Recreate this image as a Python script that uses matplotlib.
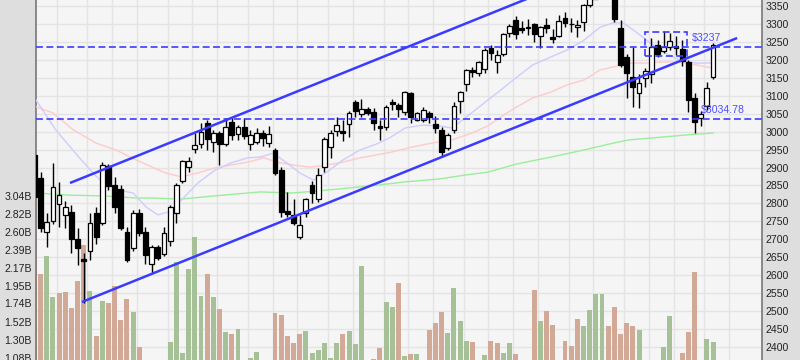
import numpy as np
import matplotlib.pyplot as plt
from matplotlib.patches import Rectangle
from matplotlib.transforms import blended_transform_factory

plt.rcParams['font.family'] = ['Liberation Sans', 'DejaVu Sans']
plt.rcParams['lines.scale_dashes'] = False

# daily candles, oldest first
opens = [2934.9, 2870.8, 2720.3, 2751.0, 2798.4, 2767.7, 2776.1, 2700.8, 2645.1, 2667.4,
         2773.3, 2745.4, 2904.2, 2851.3, 2840.2, 2720.3, 2675.8, 2773.3, 2720.3, 2631.2,
         2678.6, 2659.1, 2695.3, 2773.3, 2862.4, 2901.4, 2951.6, 2965.5, 3024.0, 2971.1,
         2996.2, 2965.5, 3026.8, 2993.4, 3012.9, 2965.5, 2971.1, 2996.2, 2968.3, 2948.8,
         2893.1, 2778.9, 2767.7, 2706.4, 2773.3, 2851.3, 2812.3, 2901.4, 2957.2, 3001.7,
         3001.7, 3021.2, 3082.5, 3049.1, 3063.0, 3054.7, 3015.7, 3012.9, 3082.5, 3074.2,
         3054.7, 3107.6, 3032.4, 3032.4, 3051.9, 3021.2, 3004.5, 2954.4, 3004.5, 3085.3,
         3132.7, 3171.7, 3163.3, 3174.5, 3233.0, 3194.0, 3216.3, 3274.8, 3311.0, 3288.7,
         3291.5, 3299.8, 3266.4, 3297.0, 3263.6, 3266.4, 3316.6, 3299.5, 3291.5, 3305.4,
         3352.8, 3370.0, 3383.0, 3390.0, 3385.0, 3288.7, 3207.9, 3152.2, 3107.6, 3149.4,
         3160.5, 3241.3, 3224.6, 3235.8, 3238.6, 3230.2, 3194.0, 3093.7, 3038.0, 3071.4,
         3152.2]
highs = [2948.8, 2887.5, 2773.3, 2912.6, 2859.6, 2806.7, 2795.6, 2731.5, 2661.8, 2773.3,
         2790.0, 2915.4, 2909.8, 2873.6, 2851.3, 2734.3, 2781.6, 2784.4, 2734.3, 2684.1,
         2684.1, 2734.3, 2795.6, 2856.9, 2920.9, 2929.3, 2996.2, 3024.0, 3032.4, 3004.5,
         3001.7, 3038.0, 3038.0, 3018.5, 3038.0, 3004.5, 3010.1, 3004.5, 3015.7, 2954.4,
         2901.4, 2831.8, 2812.3, 2767.7, 2815.1, 2862.4, 2898.7, 2985.0, 3004.5, 3040.7,
         3032.4, 3057.5, 3088.1, 3090.9, 3068.6, 3065.8, 3032.4, 3074.2, 3090.9, 3079.7,
         3113.2, 3110.4, 3054.7, 3068.6, 3057.5, 3043.5, 3012.9, 2996.2, 3082.5, 3113.2,
         3174.5, 3180.0, 3196.8, 3233.0, 3241.3, 3227.4, 3274.8, 3299.8, 3322.1, 3308.2,
         3313.8, 3302.6, 3294.3, 3316.6, 3285.9, 3324.9, 3333.3, 3316.6, 3311.0, 3355.6,
         3385.0, 3395.0, 3402.0, 3398.0, 3396.0, 3311.0, 3216.3, 3235.8, 3160.5, 3177.3,
         3260.8, 3255.3, 3280.3, 3274.8, 3266.4, 3255.3, 3199.5, 3107.6, 3057.5, 3138.2,
         3246.9]
lows = [2795.6, 2720.3, 2678.6, 2742.6, 2734.3, 2731.5, 2661.8, 2628.4, 2522.5, 2642.3,
        2686.9, 2739.9, 2837.4, 2773.3, 2725.9, 2636.8, 2667.4, 2709.2, 2631.2, 2606.1,
        2642.3, 2653.5, 2681.3, 2745.4, 2856.9, 2887.5, 2940.4, 2954.4, 2948.8, 2943.2,
        2907.0, 2960.0, 2976.7, 2976.7, 2979.4, 2948.8, 2965.5, 2960.0, 2957.2, 2879.2,
        2762.1, 2762.1, 2739.9, 2700.8, 2762.1, 2801.1, 2803.9, 2887.5, 2926.5, 2987.8,
        2973.9, 2985.0, 3040.7, 3040.7, 3046.3, 3004.5, 2976.7, 3004.5, 3060.2, 3040.7,
        3046.3, 3024.0, 3029.6, 3026.8, 3024.0, 2996.2, 2932.1, 2948.8, 2996.2, 3051.9,
        3113.2, 3152.2, 3155.0, 3163.3, 3199.5, 3163.3, 3210.7, 3263.6, 3258.0, 3274.8,
        3269.2, 3249.7, 3233.0, 3274.8, 3246.9, 3263.6, 3291.5, 3277.6, 3263.6, 3280.3,
        3347.2, 3369.0, 3376.0, 3372.0, 3305.4, 3180.0, 3093.7, 3068.6, 3065.8, 3124.3,
        3135.5, 3207.9, 3219.1, 3227.4, 3213.5, 3182.8, 3054.7, 2996.2, 3015.7, 3060.2,
        3146.6]
closes = [2817.9, 2731.5, 2748.2, 2845.7, 2823.4, 2790.0, 2700.8, 2675.8, 2639.6, 2745.4,
          2706.4, 2907.0, 2848.5, 2790.0, 2731.5, 2642.3, 2773.3, 2717.6, 2656.3, 2678.6,
          2647.9, 2717.6, 2790.0, 2851.3, 2918.2, 2919.5, 2962.7, 2998.9, 2979.4, 2996.2,
          2965.5, 3012.9, 2990.6, 3012.9, 2987.8, 2990.6, 2996.2, 2982.2, 2993.4, 2884.7,
          2776.1, 2770.5, 2745.4, 2739.9, 2812.3, 2829.0, 2879.2, 2979.4, 2996.2, 3018.5,
          2997.5, 3051.9, 3057.5, 3063.0, 3051.9, 3024.0, 3010.1, 3068.6, 3076.9, 3063.0,
          3110.4, 3040.7, 3051.9, 3060.2, 3040.7, 3010.1, 2943.2, 2990.6, 3071.4, 3110.4,
          3171.7, 3166.1, 3194.0, 3227.4, 3219.1, 3213.5, 3272.0, 3294.3, 3272.0, 3283.1,
          3288.7, 3272.0, 3291.5, 3288.7, 3258.0, 3308.2, 3302.6, 3299.0, 3297.0, 3352.8,
          3372.0, 3382.0, 3392.0, 3378.0, 3313.8, 3185.6, 3163.3, 3124.3, 3135.5, 3168.9,
          3235.8, 3216.3, 3235.8, 3252.5, 3233.0, 3196.8, 3088.1, 3026.8, 3049.1, 3121.5,
          3241.3]
# volume in billions
volumes = [3.015, 2.096, 2.314, 1.818, 1.866, 1.878, 1.685, 2.011, 2.447, 1.890,
           1.346, 1.769, 1.745, 1.951, 1.539, 1.793, 1.636, 1.213, 0.95, 0.90,
           0.85, 1.00, 1.273, 2.241, 1.140, 2.156, 2.544, 1.830, 2.096, 1.818,
           1.672, 1.394, 1.370, 1.430, 0.95, 1.079, 1.152, 0.90, 0.95, 1.624,
           1.600, 1.346, 1.261, 1.370, 1.406, 1.140, 1.176, 1.261, 1.079, 1.261,
           1.370, 1.406, 1.249, 2.193, 0.95, 1.067, 1.201, 1.757, 1.697, 1.987,
           1.104, 1.128, 1.128, 0.90, 1.418, 1.503, 1.636, 1.382, 1.926, 1.527,
           1.285, 1.273, 0.95, 1.116, 1.285, 1.261, 1.140, 1.261, 1.128, 0.90,
           0.85, 1.902, 1.527, 1.648, 1.479, 1.00, 1.285, 1.225, 1.551, 1.467,
           1.660, 1.854, 1.854, 1.467, 1.697, 1.370, 1.503, 1.467, 1.418, 0.95,
           0.90, 0.85, 1.213, 1.588, 0.90, 1.140, 1.394, 2.120, 1.00, 1.309,
           1.273]

# moving averages (candle index, price)
ma_blue_x = [0.26, 3.5, 7.2, 9.5, 11.1, 13.7, 16.0, 18.1, 20.0, 21.7, 23.8, 26.5, 29.3, 31.9,
             34.6, 36.6, 38.7, 40.9, 43.0, 45.2, 47.4, 50.0, 52.8, 55.4, 57.5, 60.1, 62.8,
             65.6, 67.7, 69.8, 72.1, 73.5, 75.6, 78.2, 80.8, 83.7, 86.3, 89.1, 91.7, 93.8,
             95.4, 97.5, 99.6, 101.9, 104.5, 107.2, 110]
ma_blue_y = [3088, 3004, 2929, 2885, 2857, 2837, 2829, 2790, 2768, 2776, 2809, 2857, 2893, 2913,
             2927, 2929, 2940, 2913, 2885, 2865, 2887, 2921, 2949, 2965, 2982, 3010, 3018,
             3016, 3010, 3038, 3069, 3088, 3116, 3152, 3186, 3208, 3227, 3255, 3291, 3303,
             3303, 3278, 3250, 3222, 3200, 3191, 3191]
ma_pink_x = [0.26, 3.0, 6.3, 10.0, 13.2, 16.5, 19.1, 21.2, 23.8, 26.5, 29.3, 31.9, 34.6, 37.2,
             39.3, 41.9, 44.7, 47.4, 50.0, 52.8, 55.4, 57.9, 61.2, 64.4, 67.7, 70.9, 73.5,
             75.6, 78.2, 80.8, 83.7, 86.3, 89.1, 91.7, 93.8, 96.4, 99.1, 101.9, 104.5, 107.2, 110]
ma_pink_y = [3069, 3052, 3005, 2968, 2949, 2921, 2901, 2885, 2874, 2885, 2899, 2907, 2915, 2927,
             2915, 2907, 2901, 2907, 2915, 2927, 2935, 2943, 2957, 2968, 2977, 2996, 3016,
             3041, 3069, 3094, 3110, 3130, 3144, 3172, 3180, 3191, 3191, 3194, 3194, 3186, 3177]
ma_green_x = [0.26, 5.6, 11.1, 16.5, 19.1, 23.8, 29.3, 34.6, 36.6, 41.9, 47.4, 52.8, 54.7, 60.1,
              65.6, 69.8, 73.5, 78.2, 83.7, 89.1, 93.8, 96.4, 101.9, 107.2, 110]
ma_green_y = [2829, 2823, 2821, 2815, 2815, 2812, 2821, 2829, 2832, 2829, 2837, 2846, 2849, 2860,
              2868, 2879, 2887, 2910, 2929, 2949, 2968, 2977, 2985, 2993, 2996]

price_ticks = list(range(2400, 3351, 50))
vol_ticks = [1.08, 1.30, 1.52, 1.74, 1.95, 2.17, 2.39, 2.60, 2.82, 3.04]
grid_x = [3.65, 8.6, 12.6, 16.65, 21.65, 25.6, 29.6, 34.65, 38.65, 42.6, 47.6, 51.65, 56.65,
          60.6, 64.65, 69.65, 73.6, 77.6, 81.65, 86.65, 90.6, 95.6, 99.65, 103.65, 108.6, 112.6]

level_hi = 3237
level_lo = 3034.78

blue = '#3b3bff'
up_vol = '#a6c098'
dn_vol = '#d2a896'

fig = plt.figure(figsize=(8, 3.6), dpi=100, facecolor='#dedede')
ax_vol = fig.add_axes([36 / 800, 0, 726 / 800, 1])
ax_vol.set_facecolor('#f5f5f5')
ax = ax_vol.twinx()

idx = np.arange(len(closes))
o = np.array(opens)
c = np.array(closes)

# grid (drawn on the bottom axes so it stays under the bars)
for g in grid_x:
    ax_vol.axvline(g, color='#e4e4e4', lw=1.0, zorder=0)
tr = blended_transform_factory(ax_vol.transAxes, ax.transData)
for p in price_ticks:
    ax_vol.plot([0, 1], [p, p], transform=tr, color='#e4e4e4', lw=1.0, zorder=0)

# volume
prev = np.concatenate([[opens[0]], closes[:-1]])
vcol = [up_vol if c[i] >= prev[i] else dn_vol for i in idx]
ax_vol.bar(idx, volumes, width=0.8, color=vcol, zorder=2)
ax_vol.set_ylim(1.055, 5.411)
ax_vol.set_yticks(vol_ticks, [f'{v:.2f}B' for v in vol_ticks])

# moving averages
ax.plot(ma_green_x, ma_green_y, color='#9aee9a', lw=1.0, zorder=2)
ax.plot(ma_pink_x, ma_pink_y, color='#ffcaca', lw=1.0, zorder=2)
ax.plot(ma_blue_x, ma_blue_y, color='#cdcdff', lw=1.0, zorder=2)

# candles
up = c >= o
ax.vlines(idx, lows, highs, color='black', lw=1.0, zorder=3)
body = np.maximum(np.abs(c - o), 2.0)
ax.bar(idx, body, bottom=np.minimum(o, c), width=0.78,
       color=np.where(up, 'white', 'black'), edgecolor='black', linewidth=0.9, zorder=4)

# channel
ax.plot([7.71, 113.9], [2525.3, 3260.8], color=blue, lw=1.8, zorder=6, solid_capstyle='butt')
ax.plot([5.77, 113.9], [2856.9, 3605.8], color=blue, lw=1.8, zorder=6, solid_capstyle='butt')

# levels
ax.axhline(level_hi, color=blue, lw=1.2, dashes=(5, 2.5), zorder=6)
ax.axhline(level_lo, color=blue, lw=1.2, dashes=(5, 2.5), zorder=6)
ax.add_patch(Rectangle((99.0, 3210.7), 6.8, 66.8, fill=False, ec=blue, lw=1.2,
                       ls=(0, (5, 2.5)), zorder=6))
ax.text(106.5, 3260.8, '$3237', color='#4c4cff', fontsize=7.6, va='center', ha='left',
        zorder=7, parse_math=False)
ax.text(108.0, 3060.2, '$3034.78', color='#4c4cff', fontsize=7.6, va='center', ha='left',
        zorder=7, parse_math=False)

ax.set_ylim(2363.7, 3366.7)
ax.set_yticks(price_ticks, [str(p) for p in price_ticks])
ax_vol.set_xlim(0.259, 117.93)
ax_vol.set_xticks([])

ax.tick_params(axis='y', length=0, pad=2.5, labelsize=7.6, labelcolor='#222222')
ax_vol.tick_params(axis='y', length=0, pad=3, labelsize=7.6, labelcolor='#222222')

for a in (ax, ax_vol):
    a.spines['top'].set_visible(False)
    a.spines['bottom'].set_visible(False)
ax.spines['left'].set_visible(False)
ax_vol.spines['right'].set_visible(False)
ax_vol.spines['left'].set_color('#777777')
ax_vol.spines['left'].set_linewidth(1.2)
ax.spines['right'].set_color('#777777')
ax.spines['right'].set_linewidth(1.2)

fig.savefig('out.png', dpi=100, facecolor=fig.get_facecolor())
